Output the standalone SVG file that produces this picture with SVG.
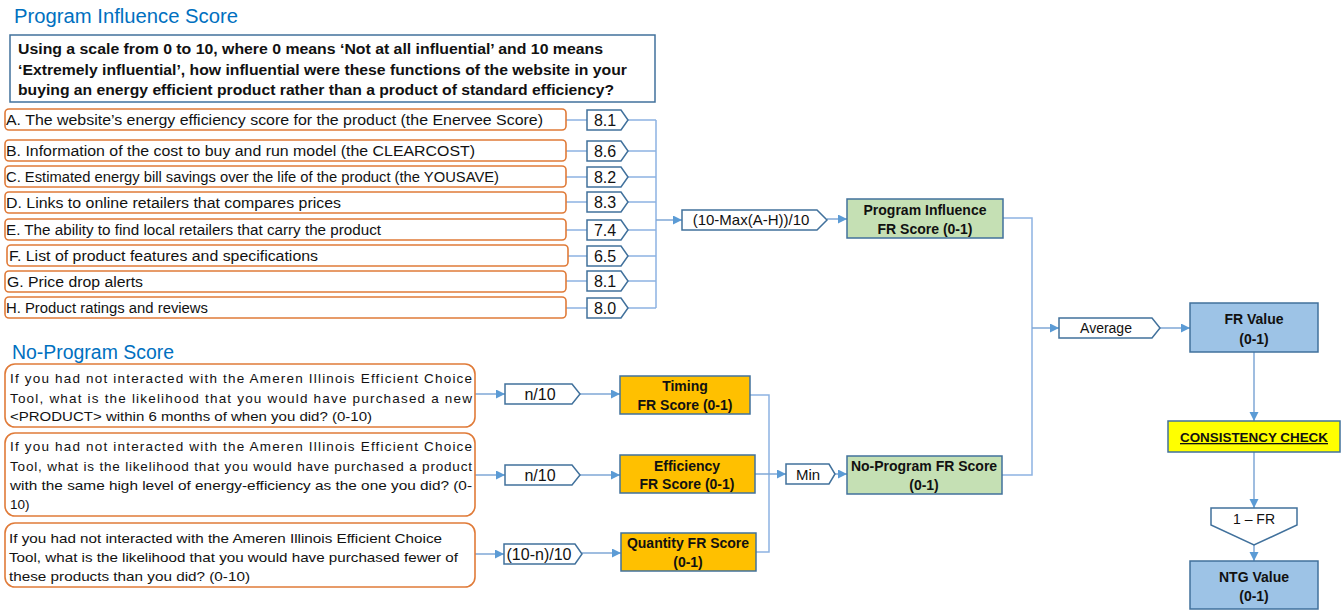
<svg xmlns="http://www.w3.org/2000/svg" width="1343" height="610" viewBox="0 0 1343 610">
<defs>
<marker id="arr" markerUnits="userSpaceOnUse" markerWidth="10" markerHeight="10" refX="9" refY="4.5" orient="auto">
<path d="M0,0 L9,4.5 L0,9 Z" fill="#5B9BD5"/>
</marker>
<style>
text{font-family:"Liberation Sans",Arial,sans-serif;fill:#111}
.title{font-size:20px;fill:#0070C0}
.item{fill:#fff;stroke:#E07B39;stroke-width:1.6}
.it{font-size:14px}
.q{font-size:13.5px}
.pent{fill:#fff;stroke:#41719C;stroke-width:1.5}
.val{font-size:16px;text-anchor:middle}
.lbl{font-size:15px;text-anchor:middle}
.bx{stroke:#41719C;stroke-width:1.5}
.green{fill:#C5E0B4}
.blue{fill:#9DC3E6}
.orange{fill:#FFC000}
.yellow{fill:#FFFF00}
.bt{font-size:14px;font-weight:bold;text-anchor:middle}
.ln{fill:none;stroke:#8DB3E2;stroke-width:1.5}
.la{fill:none;stroke:#7FA7D6;stroke-width:1.5;marker-end:url(#arr)}
</style>
</defs>

<g id="titles">
<text class="title" x="14" y="23" textLength="224" lengthAdjust="spacingAndGlyphs">Program Influence Score</text>
<text class="title" x="12" y="359" textLength="162" lengthAdjust="spacingAndGlyphs">No-Program Score</text>
</g>

<g id="question">
<rect x="10" y="35" width="645" height="67" fill="#fff" stroke="#41719C" stroke-width="1.5"/>
<text x="18" y="54" font-size="14.5" font-weight="bold" textLength="585" lengthAdjust="spacingAndGlyphs">Using a scale from 0 to 10, where 0 means ‘Not at all influential’ and 10 means</text>
<text x="18" y="75" font-size="14.5" font-weight="bold" textLength="609" lengthAdjust="spacingAndGlyphs">‘Extremely influential’, how influential were these functions of the website in your</text>
<text x="18" y="95" font-size="14.5" font-weight="bold" textLength="596" lengthAdjust="spacingAndGlyphs">buying an energy efficient product rather than a product of standard efficiency?</text>
</g>

<g id="connectors">
<!-- items to values -->
<path class="ln" d="M566,120 H587 M566,151 H587 M566,177 H587 M566,202 H587 M566,230 H587 M568,256 H587 M566,281 H587 M566,308 H587"/>
<path class="ln" d="M628,120 H656 M628,151 H656 M628,177 H656 M628,202 H656 M628,230 H656 M628,256 H656 M628,281 H656 M628,308 H656 M656,120 V308"/>
<path class="la" d="M656,220 H682"/>
<path class="la" d="M827,219 H847"/>
<path class="ln" d="M1003,218 H1032 V475 H1002"/>
<path class="la" d="M1032,328 H1059"/>
<path class="la" d="M1160,328 H1190"/>
<path class="la" d="M1254,352 V421"/>
<path class="la" d="M1254,452 V508"/>
<path class="la" d="M1254,545 V561"/>
<!-- no-program -->
<path class="la" d="M475,394 H505"/>
<path class="la" d="M580,394 H620"/>
<path class="la" d="M475,475 H505"/>
<path class="la" d="M580,475 H620"/>
<path class="la" d="M475,554 H504"/>
<path class="la" d="M582,553 H621"/>
<path class="ln" d="M750,395 H769 V552 H756"/>
<path class="la" d="M755,474 H786"/>
<path class="la" d="M835,474 H847"/>
</g>

<g id="item-A"><rect class="item" x="5" y="109" width="561" height="21" rx="4"/><text class="it" x="6" y="125" textLength="537" lengthAdjust="spacingAndGlyphs">A. The website’s energy efficiency score for the product (the Enervee Score)</text></g>
<g id="item-B"><rect class="item" x="5" y="140" width="561" height="21" rx="4"/><text class="it" x="6" y="156" textLength="469" lengthAdjust="spacingAndGlyphs">B. Information of the cost to buy and run model (the CLEARCOST)</text></g>
<g id="item-C"><rect class="item" x="5" y="166" width="561" height="21" rx="4"/><text class="it" x="6" y="182" textLength="493" lengthAdjust="spacingAndGlyphs">C. Estimated energy bill savings over the life of the product (the YOUSAVE)</text></g>
<g id="item-D"><rect class="item" x="5" y="192" width="561" height="21" rx="4"/><text class="it" x="6" y="208" textLength="335" lengthAdjust="spacingAndGlyphs">D. Links to online retailers that compares prices</text></g>
<g id="item-E"><rect class="item" x="5" y="219" width="561" height="21" rx="4"/><text class="it" x="6" y="235" textLength="375" lengthAdjust="spacingAndGlyphs">E. The ability to find local retailers that carry the product</text></g>
<g id="item-F"><rect class="item" x="7" y="245" width="561" height="21" rx="4"/><text class="it" x="9" y="261" textLength="309" lengthAdjust="spacingAndGlyphs">F. List of product features and specifications</text></g>
<g id="item-G"><rect class="item" x="5" y="271" width="561" height="21" rx="4"/><text class="it" x="7" y="287" textLength="136" lengthAdjust="spacingAndGlyphs">G. Price drop alerts</text></g>
<g id="item-H"><rect class="item" x="5" y="297" width="561" height="21" rx="4"/><text class="it" x="6" y="313" textLength="202" lengthAdjust="spacingAndGlyphs">H. Product ratings and reviews</text></g>

<g id="val-A"><path class="pent" d="M587,110 H621 L628,120 L621,130 H587 Z"/><text class="val" x="605" y="126">8.1</text></g>
<g id="val-B"><path class="pent" d="M587,141 H621 L628,151 L621,161 H587 Z"/><text class="val" x="605" y="157">8.6</text></g>
<g id="val-C"><path class="pent" d="M587,167 H621 L628,177 L621,187 H587 Z"/><text class="val" x="605" y="183">8.2</text></g>
<g id="val-D"><path class="pent" d="M587,192 H621 L628,202 L621,212 H587 Z"/><text class="val" x="605" y="208">8.3</text></g>
<g id="val-E"><path class="pent" d="M587,220 H621 L628,230 L621,240 H587 Z"/><text class="val" x="605" y="236">7.4</text></g>
<g id="val-F"><path class="pent" d="M587,246 H621 L628,256 L621,266 H587 Z"/><text class="val" x="605" y="262">6.5</text></g>
<g id="val-G"><path class="pent" d="M587,271 H621 L628,281 L621,291 H587 Z"/><text class="val" x="605" y="287">8.1</text></g>
<g id="val-H"><path class="pent" d="M587,298 H621 L628,308 L621,318 H587 Z"/><text class="val" x="605" y="314">8.0</text></g>

<g id="max-formula"><path class="pent" d="M682,210 H817 L827,220 L817,230 H682 Z"/><text class="lbl" x="751" y="225">(10-Max(A-H))/10</text></g>

<g id="program-influence"><rect class="bx green" x="847" y="199" width="156" height="39"/><text class="bt" x="925" y="215">Program Influence</text><text class="bt" x="925" y="234">FR Score (0-1)</text></g>

<g id="average"><path class="pent" d="M1059,318 H1152 L1160,328 L1152,338 H1059 Z"/><text font-size="14" text-anchor="middle" x="1106" y="333">Average</text></g>

<g id="fr-value"><rect class="bx blue" x="1190" y="303" width="128" height="49"/><text class="bt" x="1254" y="324">FR Value</text><text class="bt" x="1254" y="344">(0-1)</text></g>

<g id="consistency"><rect class="bx yellow" x="1168" y="421" width="172" height="31"/><text font-size="13" font-weight="bold" text-anchor="middle" text-decoration="underline" x="1254" y="442" textLength="148" lengthAdjust="spacingAndGlyphs">CONSISTENCY CHECK</text></g>

<g id="one-minus-fr"><path class="pent" d="M1211,508 H1297 V525 L1254,545 L1211,525 Z"/><text font-size="14" text-anchor="middle" x="1254" y="524">1 – FR</text></g>

<g id="ntg-value"><rect class="bx blue" x="1190" y="561" width="128" height="48"/><text class="bt" x="1254" y="582">NTG Value</text><text class="bt" x="1254" y="601">(0-1)</text></g>

<g id="q-timing"><rect class="item" x="5" y="364" width="470" height="63" rx="10"/>
<text class="q" x="10" y="383" textLength="462" lengthAdjust="spacing">If you had not interacted with the Ameren Illinois Efficient Choice</text>
<text class="q" x="10" y="403" textLength="462" lengthAdjust="spacing">Tool, what is the likelihood that you would have purchased a new</text>
<text class="q" x="10" y="421" textLength="362" lengthAdjust="spacingAndGlyphs">&lt;PRODUCT&gt; within 6  months of when you did? (0-10)</text></g>

<g id="q-efficiency"><rect class="item" x="5" y="433" width="470" height="83" rx="10"/>
<text class="q" x="10" y="451" textLength="462" lengthAdjust="spacing">If you had not interacted with the Ameren Illinois Efficient Choice</text>
<text class="q" x="10" y="471" textLength="462" lengthAdjust="spacing">Tool, what is the likelihood that you would have purchased a product</text>
<text class="q" x="10" y="490" textLength="462" lengthAdjust="spacingAndGlyphs">with the same high level of energy-efficiency as the one you did? (0-</text>
<text class="q" x="10" y="509">10)</text></g>

<g id="q-quantity"><rect class="item" x="5" y="523" width="470" height="64" rx="10"/>
<text class="q" x="9" y="543" textLength="433" lengthAdjust="spacingAndGlyphs">If you had not interacted with the Ameren Illinois Efficient Choice</text>
<text class="q" x="9" y="562" textLength="449" lengthAdjust="spacingAndGlyphs">Tool, what is the likelihood that you would have purchased fewer of</text>
<text class="q" x="9" y="581" textLength="241" lengthAdjust="spacingAndGlyphs">these products than you did? (0-10)</text></g>

<g id="n10-timing"><path class="pent" d="M505,384 H572 L580,394 L572,404 H505 Z"/><text class="val" x="540" y="400">n/10</text></g>
<g id="n10-efficiency"><path class="pent" d="M505,465 H572 L580,475 L572,485 H505 Z"/><text class="val" x="540" y="481">n/10</text></g>
<g id="n10-quantity"><path class="pent" d="M504,544 H575 L582,554 L575,564 H504 Z"/><text class="val" x="539" y="560">(10-n)/10</text></g>

<g id="timing"><rect class="bx orange" x="620" y="376" width="130" height="38"/><text class="bt" x="685" y="391">Timing</text><text class="bt" x="685" y="410">FR Score (0-1)</text></g>
<g id="efficiency"><rect class="bx orange" x="620" y="455" width="135" height="38"/><text class="bt" x="687" y="471">Efficiency</text><text class="bt" x="687" y="489">FR Score (0-1)</text></g>
<g id="quantity"><rect class="bx orange" x="621" y="533" width="135" height="38"/><text class="bt" x="688" y="548">Quantity FR Score</text><text class="bt" x="688" y="567">(0-1)</text></g>

<g id="min"><path class="pent" d="M786,464 H829 L835,474 L829,484 H786 Z"/><text class="lbl" x="808" y="480">Min</text></g>

<g id="no-program"><rect class="bx green" x="847" y="456" width="155" height="38"/><text class="bt" x="924" y="471">No-Program FR Score</text><text class="bt" x="924" y="490">(0-1)</text></g>
</svg>
